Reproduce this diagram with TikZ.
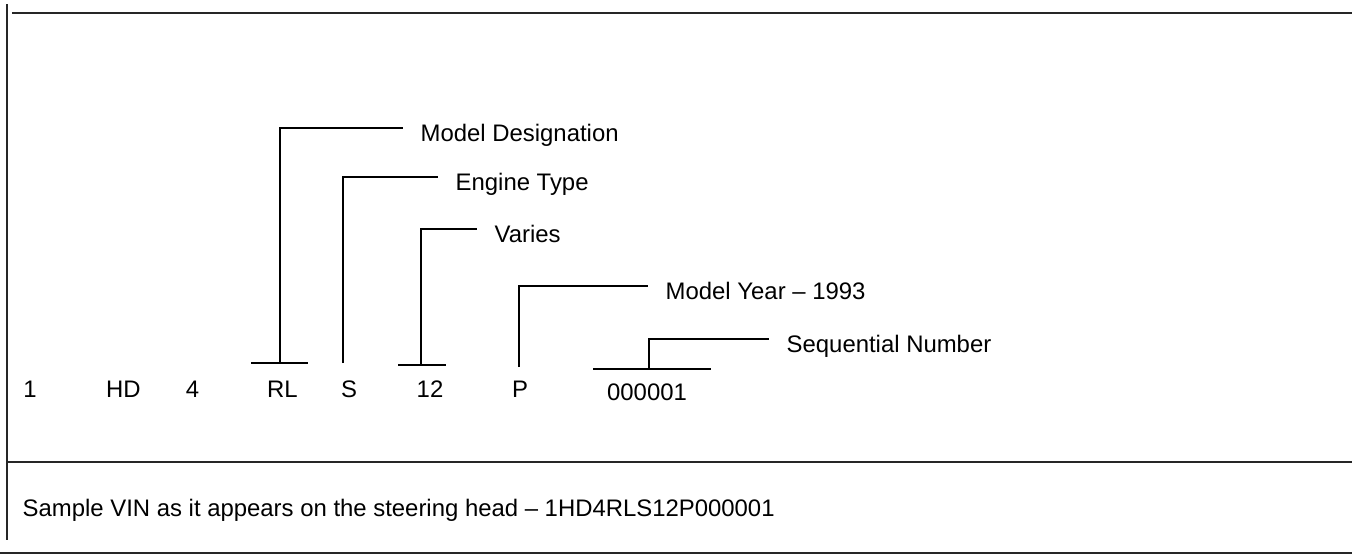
\documentclass[tikz,border=0pt]{standalone}
\usepackage{fontspec}
\setmainfont{Liberation Sans}
\newcommand{\vinfont}{\fontsize{6.8pt}{8pt}\selectfont}
\begin{document}
\begin{tikzpicture}[x=1cm,y=1cm,
  every node/.style={font=\vinfont,text height=1.4ex,text depth=0pt},
  vin/.style={inner sep=0pt},
  lbl/.style={anchor=west,inner ysep=0pt,inner xsep=0.17cm},
  lead/.style={line width=0.45pt,black},
  frame/.style={line width=0.5pt,black!85}]
\useasboundingbox (0,0) rectangle (13.52,-5.54);
% frame
\draw[frame] (0.12,-0.13) -- (13.52,-0.13);
\draw[frame] (0.07,-0.04) -- (0.07,-5.40);
\draw[frame] (0.07,-4.62) -- (13.52,-4.62);
\draw[frame] (0,-5.53) -- (13.52,-5.53);
% VIN row
\node[vin] (v1) at (0.30,-3.84) {1};
\node[vin] (vhd) at (1.235,-3.84) {HD};
\node[vin] (v4) at (1.925,-3.84) {4};
\node[vin] (vrl) at (2.825,-3.84) {RL};
\node[vin] (vs) at (3.49,-3.84) {S};
\node[vin] (v12) at (4.30,-3.84) {12};
\node[vin] (vp) at (5.20,-3.84) {P};
\node[vin] (vseq) at (6.47,-3.875) {000001};
% labels
\node[lbl] (md) at (4.03,-1.28) {Model Designation};
\node[lbl] (et) at (4.38,-1.77) {Engine Type};
\node[lbl] (va) at (4.77,-2.29) {Varies};
\node[lbl] (my) at (6.48,-2.86) {Model Year – 1993};
\node[lbl] (sn) at (7.69,-3.39) {Sequential Number};
% leader feet
\coordinate (rlb) at (2.80,-3.63);
\coordinate (sb) at (3.43,-3.63);
\coordinate (twb) at (4.21,-3.65);
\coordinate (pb) at (5.19,-3.67);
\coordinate (snb) at (6.49,-3.69);
\draw[lead] (rlb) |- (md.west);
\draw[lead] (sb) |- (et.west);
\draw[lead] (twb) |- (va.west);
\draw[lead] (pb) |- (my.west);
\draw[lead] (snb) |- (sn.west);
\draw[lead] (rlb) +(-0.29,0) -- +(0.28,0);
\draw[lead] (twb) +(-0.23,0) -- +(0.25,0);
\draw[lead] (snb) +(-0.56,0) -- +(0.62,0);
% caption
\node[vin,anchor=west] (cap) at (0.22,-5.03) {Sample VIN as it appears on the steering head – 1HD4RLS12P000001};
\end{tikzpicture}
\end{document}
